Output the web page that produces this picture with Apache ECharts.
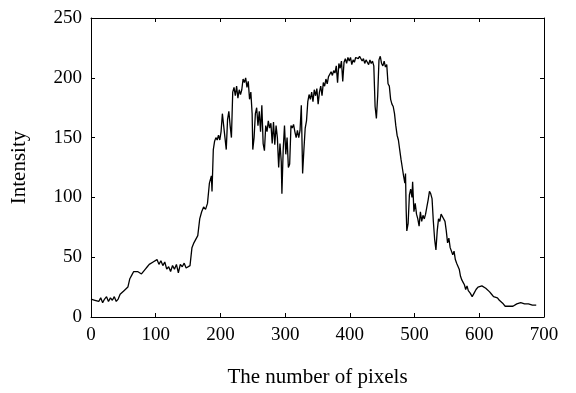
<!DOCTYPE html>
<html>
<head>
<meta charset="utf-8">
<script src="https://cdn.jsdelivr.net/npm/echarts@6/dist/echarts.min.js"></script>
<style>html,body{margin:0;padding:0;background:#fff;}#c{width:576px;height:393px;}</style>
</head>
<body>
<div id="c"></div>
<script>
const xTicks = [0, 100, 200, 300, 400, 500, 600, 700];
const yTicks = [0, 50, 100, 150, 200, 250];
const pixelX = [0,3,6,9,12,15,18,21,24,27,30,33,36,39,42,45,48,51,54,57,60,63,66,69,72,75,78,81,84,87,90,93,96,99,102,105,108,111,114,117,120,123,126,129,132,135,138,141,144,147,150,153,156,159,162,165,168,171,174,177,180,183,186,187,189,191,193,195,197,199,201,203,205,207,209,211,213,215,217,219,221,223,225,227,229,231,233,235,237,239,241,243,245,247,249,250,252,254,256,258,260,262,264,266,268,270,272,274,276,278,280,282,284,286,288,290,292,294,295,297,299,301,303,305,307,309,311,313,315,317,319,321,323,325,327,329,331,333,335,337,339,341,343,345,347,349,351,353,355,357,359,361,363,365,367,369,371,373,375,377,379,381,383,385,387,389,391,393,395,397,399,401,403,405,407,409,411,413,415,417,419,421,423,425,427,429,431,433,435,437,439,441,443,445,447,449,451,453,455,457,459,461,463,465,467,469,471,473,475,477,479,481,483,485,486,487,488,490,492,494,496,497,499,501,503,505,507,509,511,513,515,517,519,521,523,525,527,529,531,533,535,537,539,541,543,545,547,549,551,553,555,557,559,561,563,565,567,569,571,573,575,577,579,581,583,586,589,592,595,598,601,604,607,610,613,616,619,622,625,628,631,634,637,640,643,646,649,652,655,658,661,664,667,670,673,676,679,682,685,688];
const intensity = [15,16,14,15,13,16,12,15,17,13,16,14,17,13,15,19,20,22,21,25,32,35,38,39,38,39,36,37,40,42,44,43,46,45,48,44,47,43,46,40,42,38,43,40,44,37,44,42,45,41,40,43,58,62,61,68,82,88,92,90,95,112,118,105,140,147,150,148,152,148,155,170,160,150,140,165,172,160,150,188,192,185,193,183,190,186,190,199,196,200,192,197,182,188,170,140,150,170,175,160,172,155,177,145,139,160,155,164,158,162,145,163,144,160,150,125,145,130,103,140,160,136,150,125,128,160,158,161,155,150,156,150,156,177,120,140,158,164,180,186,182,188,180,190,185,191,178,188,193,185,196,193,199,195,201,203,205,202,206,204,210,196,212,208,214,197,213,216,212,217,214,217,211,215,213,217,218,216,218,217,214,216,212,215,213,211,215,212,214,210,176,166,185,215,218,212,210,214,209,211,195,193,182,178,176,170,160,152,148,140,132,125,118,112,120,90,72,78,102,107,100,113,88,95,86,82,76,88,80,85,82,86,92,98,105,103,99,80,65,56,72,82,80,86,84,85,80,72,62,66,58,57,52,55,48,45,44,40,34,31,29,27,23,26,22,20,17,20,23,25,26,26,25,24,23,21,19,17,17,16,14,13,11,9,9,9,10,9,10,11,11,12,11,11,12,11,11,10,10,10];

const seriesData = pixelX.map((x, i) => [x, intensity[i]]);
const font = 'Liberation Serif';
const chart = echarts.init(document.getElementById('c'), null, {renderer: 'canvas'});
const axisLineStyle = {color: '#000', width: 1};
chart.setOption({
  animation: false,
  backgroundColor: '#fff',
  grid: {left: 91, right: 32, top: 18, bottom: 70, containLabel: false},
  xAxis: [{
    type: 'value', min: xTicks[0], max: xTicks[xTicks.length - 1], interval: 100,
    name: 'The number of pixels', nameLocation: 'middle', nameGap: 50,
    nameTextStyle: {fontFamily: font, fontSize: 21, color: '#000'},
    axisLine: {show: true, lineStyle: axisLineStyle},
    axisTick: {show: true, inside: true, length: 4, lineStyle: axisLineStyle},
    axisLabel: {fontFamily: font, fontSize: 19, color: '#000', margin: 9},
    splitLine: {show: false}
  }, {
    type: 'value', position: 'top', min: xTicks[0], max: xTicks[xTicks.length - 1], interval: 100,
    axisLine: {show: true, onZero: false, lineStyle: axisLineStyle},
    axisTick: {show: true, inside: true, length: 4, lineStyle: axisLineStyle},
    axisLabel: {show: false}, splitLine: {show: false}
  }],
  yAxis: [{
    type: 'value', min: yTicks[0], max: yTicks[yTicks.length - 1], interval: 50,
    name: 'Intensity', nameLocation: 'middle', nameGap: 61,
    nameTextStyle: {fontFamily: font, fontSize: 21, color: '#000'},
    axisLine: {show: true, lineStyle: axisLineStyle},
    axisTick: {show: true, inside: true, length: 4, lineStyle: axisLineStyle},
    axisLabel: {fontFamily: font, fontSize: 19, color: '#000', margin: 9},
    splitLine: {show: false}
  }, {
    type: 'value', position: 'right', min: yTicks[0], max: yTicks[yTicks.length - 1], interval: 50,
    axisLine: {show: true, onZero: false, lineStyle: axisLineStyle},
    axisTick: {show: true, inside: true, length: 4, lineStyle: axisLineStyle},
    axisLabel: {show: false}, splitLine: {show: false}
  }],
  series: [{
    type: 'line', data: seriesData, xAxisIndex: 0, yAxisIndex: 0,
    showSymbol: false, symbol: 'none',
    lineStyle: {color: '#000', width: 1.3}
  }]
});
</script>
</body>
</html>
